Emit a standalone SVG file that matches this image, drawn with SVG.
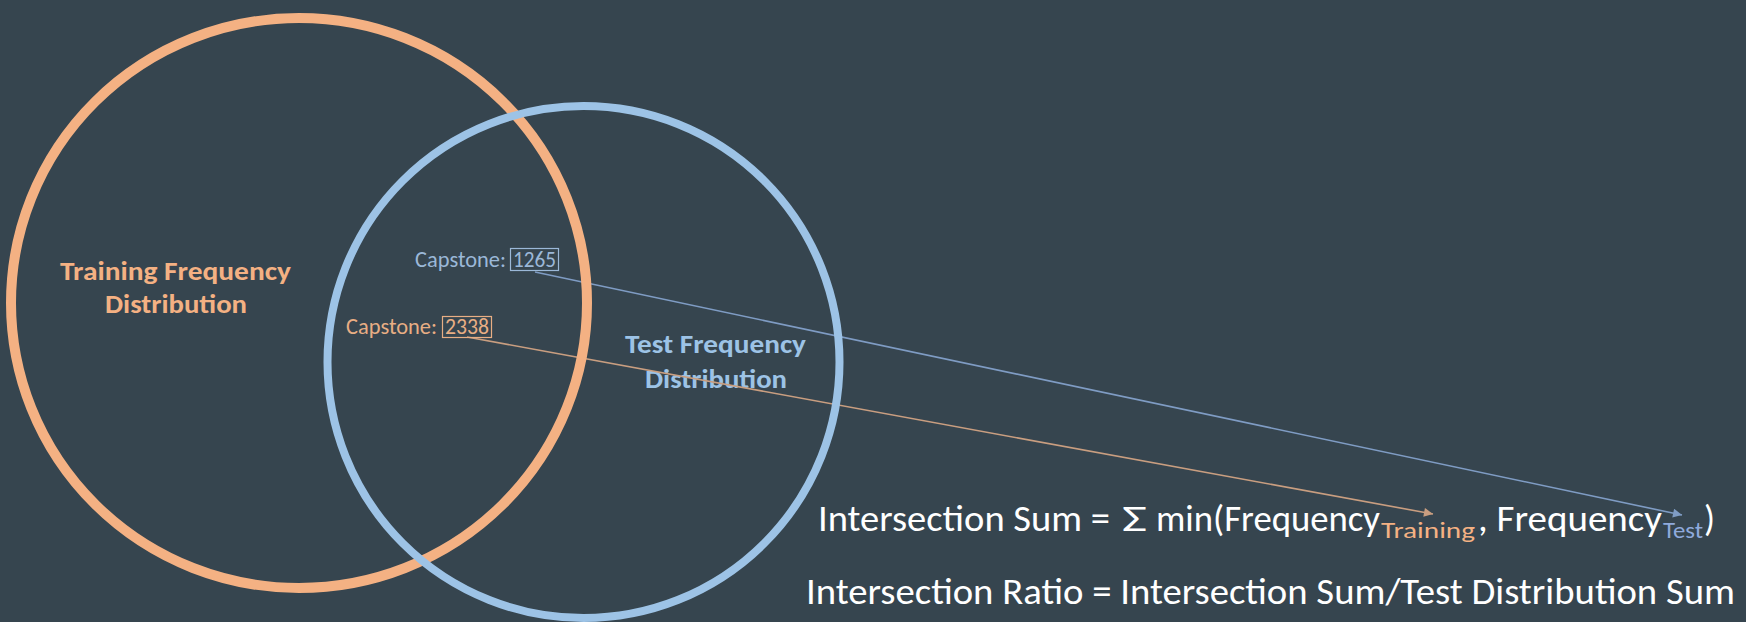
<svg xmlns="http://www.w3.org/2000/svg" width="1746" height="622" viewBox="0 0 1746 622">
  <style>
    .bg { fill: #36454f; }
    .ring { fill: none; }
    .ring-train { stroke: #f4b183; stroke-width: 10; }
    .ring-test { stroke: #9dc3e6; stroke-width: 8; }
    .title { font-family: Carlito, "Liberation Sans", Arial, sans-serif; font-weight: bold; font-size: 26px; text-anchor: middle; }
    .lbl { font-family: Carlito, "Liberation Sans", Arial, sans-serif; font-size: 22px; }
    .train { fill: #f4b183; }
    .test { fill: #9dc3e6; }
    .box-train { fill: none; stroke: #e8ae84; stroke-width: 1.2; }
    .box-test { fill: none; stroke: #9bb8d8; stroke-width: 1.2; }
    .link { fill: none; stroke-width: 1.6; }
    .link-train { stroke: #c99e80; }
    .link-test { stroke: #7f9cc4; }
    .eq { font-family: Carlito, "Liberation Sans", Arial, sans-serif; font-size: 36px; fill: #ffffff; }
    .sub { font-family: Carlito, "Liberation Sans", Arial, sans-serif; font-size: 22px; }
  </style>
  <defs>
    <marker id="arrow-train" viewBox="0 0 10 10" refX="10" refY="5" markerUnits="userSpaceOnUse" markerWidth="11" markerHeight="9" orient="auto">
      <path d="M0,0 L10,5 L0,10 z" fill="#c99e80"/>
    </marker>
    <marker id="arrow-test" viewBox="0 0 10 10" refX="10" refY="5" markerUnits="userSpaceOnUse" markerWidth="11" markerHeight="9" orient="auto">
      <path d="M0,0 L10,5 L0,10 z" fill="#7f9cc4"/>
    </marker>
  </defs>

  <rect class="bg" x="0" y="0" width="1746" height="622"/>

  <!-- set labels -->
  <g id="training-label">
    <text class="title train" x="175.5" y="280" textLength="231" lengthAdjust="spacingAndGlyphs">Training Frequency</text>
    <text class="title train" x="176" y="313" textLength="142" lengthAdjust="spacingAndGlyphs">Distribution</text>
  </g>
  <g id="test-label">
    <text class="title test" x="715.5" y="353" textLength="181" lengthAdjust="spacingAndGlyphs">Test Frequency</text>
    <text class="title test" x="716" y="388" textLength="142" lengthAdjust="spacingAndGlyphs">Distribution</text>
  </g>

  <!-- links from counts to the formula -->
  <g id="connectors">
    <line class="link link-test" x1="535" y1="272" x2="1682" y2="515" marker-end="url(#arrow-test)"/>
    <line class="link link-train" x1="467" y1="337" x2="1433" y2="514" marker-end="url(#arrow-train)"/>
  </g>

  <!-- the two distributions -->
  <g id="training-set">
    <ellipse class="ring ring-train" cx="299" cy="303" rx="288" ry="285"/>
  </g>
  <g id="test-set">
    <circle class="ring ring-test" cx="583.5" cy="362" r="256"/>
  </g>

  <!-- word counts -->
  <g id="test-count">
    <text class="lbl" x="415" y="267" fill="#9bb8d8" textLength="91" lengthAdjust="spacingAndGlyphs">Capstone:</text>
    <rect class="box-test" x="510.5" y="248.5" width="48" height="22"/>
    <text class="lbl" x="513" y="267" fill="#9bb8d8" textLength="43" lengthAdjust="spacingAndGlyphs">1265</text>
  </g>
  <g id="training-count">
    <text class="lbl" x="346" y="334" fill="#e8ae84" textLength="91" lengthAdjust="spacingAndGlyphs">Capstone:</text>
    <rect class="box-train" x="442.5" y="316.5" width="49" height="21"/>
    <text class="lbl" x="445" y="334" fill="#e8ae84" textLength="44" lengthAdjust="spacingAndGlyphs">2338</text>
  </g>

  <!-- formulas -->
  <g id="intersection-sum">
    <text class="eq" x="818" y="531" textLength="292" lengthAdjust="spacingAndGlyphs">Intersection Sum =</text>
    <text class="eq" x="1122" y="531" font-size="46" textLength="25" lengthAdjust="spacingAndGlyphs">Σ</text>
    <text class="eq" x="1156" y="531" textLength="224" lengthAdjust="spacingAndGlyphs">min(Frequency</text>
    <text class="sub" x="1381" y="538" fill="#f4b183" textLength="94" lengthAdjust="spacingAndGlyphs">Training</text>
    <text class="eq" x="1478" y="531" textLength="184" lengthAdjust="spacingAndGlyphs">, Frequency</text>
    <text class="sub" x="1663" y="538" fill="#8faadc" textLength="40" lengthAdjust="spacingAndGlyphs">Test</text>
    <text class="eq" x="1704" y="531" textLength="11" lengthAdjust="spacingAndGlyphs">)</text>
  </g>
  <g id="intersection-ratio">
    <text class="eq" x="806" y="604" textLength="929" lengthAdjust="spacingAndGlyphs">Intersection Ratio = Intersection Sum/Test Distribution Sum</text>
  </g>
</svg>
